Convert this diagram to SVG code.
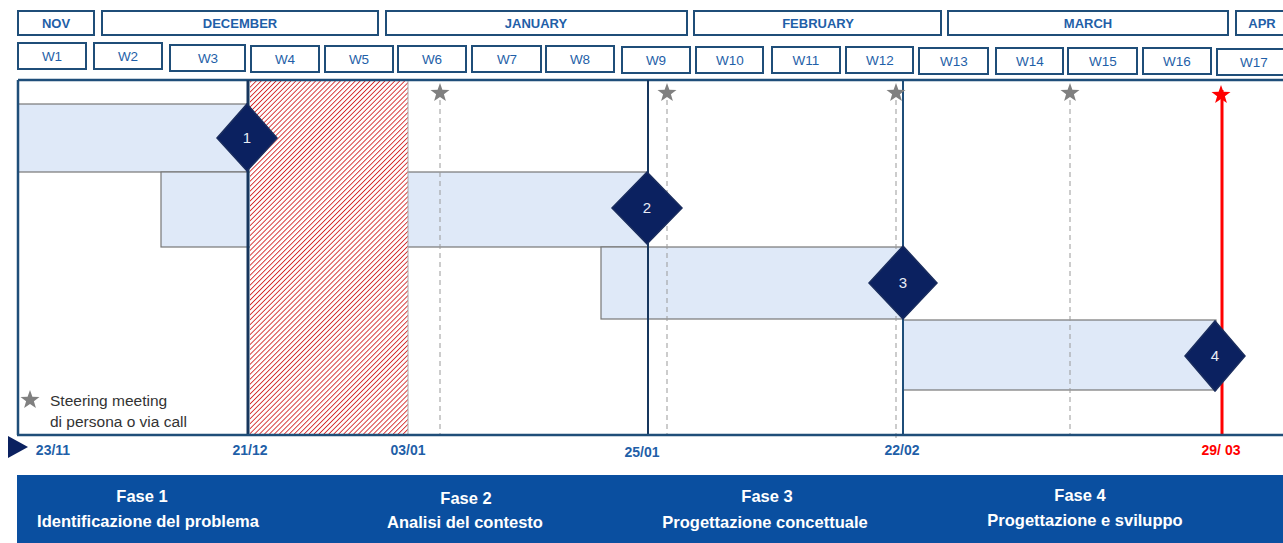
<svg xmlns="http://www.w3.org/2000/svg" width="1283" height="543" viewBox="0 0 1283 543">
<style>
.box{fill:#fff;stroke:#1f4e79;stroke-width:2}
.mt{font-family:"Liberation Sans",Arial,sans-serif;font-size:13px;font-weight:bold;fill:#1f5fa8;text-anchor:middle}
.wt{font-family:"Liberation Sans",Arial,sans-serif;font-size:13.5px;fill:#1f5fa8;text-anchor:middle}
.bar{fill:#dfe9f8;stroke:#777;stroke-width:1.2}
.dia{fill:#0b2160;stroke:#1a2d5e;stroke-width:1.5}
.dt{font-family:"Liberation Sans",Arial,sans-serif;font-size:15px;fill:#e8ecf5;text-anchor:middle}
.dash{stroke:#999;stroke-width:1;stroke-dasharray:5 4;fill:none}
.star{fill:#808080}
.dl{font-family:"Liberation Sans",Arial,sans-serif;font-size:14px;font-weight:bold;fill:#1f5fa8;text-anchor:middle}
.ft{font-family:"Liberation Sans",Arial,sans-serif;font-size:16.5px;font-weight:bold;fill:#fff;text-anchor:middle}
.lg{font-family:"Liberation Sans",Arial,sans-serif;font-size:15.5px;fill:#333}
</style>
<defs>
<pattern id="hatch" width="3.5" height="3.5" patternUnits="userSpaceOnUse" patternTransform="rotate(45)">
<rect width="3.5" height="3.5" fill="#fff"/>
<line x1="0" y1="0" x2="0" y2="3.5" stroke="#d42a2a" stroke-width="1.8"/>
</pattern>
<path id="st" d="M0,-10 L2.4,-3.3 L9.5,-3.1 L3.9,1.3 L5.9,8.1 L0,4.1 L-5.9,8.1 L-3.9,1.3 L-9.5,-3.1 L-2.4,-3.3 Z"/>
</defs>
<rect width="1283" height="543" fill="#fff"/>

<g id="months">
<rect class="box" x="18" y="11" width="76" height="24"/><text class="mt" x="56" y="28">NOV</text>
<rect class="box" x="102" y="11" width="276" height="24"/><text class="mt" x="240" y="28">DECEMBER</text>
<rect class="box" x="386" y="11" width="301" height="24"/><text class="mt" x="536" y="28">JANUARY</text>
<rect class="box" x="694" y="11" width="247" height="24"/><text class="mt" x="818" y="28">FEBRUARY</text>
<rect class="box" x="948" y="11" width="280" height="24"/><text class="mt" x="1088" y="28">MARCH</text>
<rect class="box" x="1236" y="11" width="52" height="24"/><text class="mt" x="1262" y="28">APR</text>
</g>

<g id="weeks">
<rect class="box" x="18" y="43" width="68" height="26"/><text class="wt" x="52" y="61">W1</text>
<rect class="box" x="94" y="43" width="68" height="26"/><text class="wt" x="128" y="61">W2</text>
<rect class="box" x="170" y="45" width="75" height="26"/><text class="wt" x="208" y="63">W3</text>
<rect class="box" x="251" y="46" width="68" height="26"/><text class="wt" x="285" y="64">W4</text>
<rect class="box" x="325" y="46" width="68" height="26"/><text class="wt" x="359" y="64">W5</text>
<rect class="box" x="398" y="46" width="68" height="26"/><text class="wt" x="432" y="64">W6</text>
<rect class="box" x="472" y="46" width="69" height="26"/><text class="wt" x="507" y="64">W7</text>
<rect class="box" x="546" y="46" width="68" height="26"/><text class="wt" x="580" y="64">W8</text>
<rect class="box" x="622" y="47" width="68" height="26"/><text class="wt" x="656" y="65">W9</text>
<rect class="box" x="696" y="47" width="67" height="26"/><text class="wt" x="730" y="65">W10</text>
<rect class="box" x="772" y="47" width="68" height="26"/><text class="wt" x="806" y="65">W11</text>
<rect class="box" x="846" y="47" width="67" height="26"/><text class="wt" x="880" y="65">W12</text>
<rect class="box" x="919" y="48" width="69" height="26"/><text class="wt" x="954" y="66">W13</text>
<rect class="box" x="996" y="48" width="67" height="26"/><text class="wt" x="1030" y="66">W14</text>
<rect class="box" x="1068" y="48" width="69" height="26"/><text class="wt" x="1103" y="66">W15</text>
<rect class="box" x="1143" y="48" width="68" height="26"/><text class="wt" x="1177" y="66">W16</text>
<rect class="box" x="1217" y="49" width="72" height="26"/><text class="wt" x="1254" y="67">W17</text>
</g>

<g id="bars">
<rect class="bar" x="18" y="104" width="230" height="68"/>
<rect class="bar" x="161" y="172" width="487" height="75"/>
<rect class="bar" x="601" y="247" width="302" height="72"/>
<rect class="bar" x="903" y="320" width="313" height="70"/>
</g>

<g id="holiday">
<rect x="250" y="81" width="158" height="354" fill="url(#hatch)"/>
<line x1="408" y1="81" x2="408" y2="435" stroke="#aaa" stroke-width="1"/>
</g>

<g id="connectors">
<line x1="18" y1="80" x2="1283" y2="80" stroke="#1f4e79" stroke-width="2.5"/>
<line x1="18" y1="80" x2="18" y2="435" stroke="#1f4e79" stroke-width="2.5"/>
<line x1="248" y1="80" x2="248" y2="435" stroke="#17365d" stroke-width="3"/>
<line x1="648" y1="80" x2="648" y2="435" stroke="#17365d" stroke-width="2"/>
<line x1="903" y1="80" x2="903" y2="435" stroke="#1f4e79" stroke-width="2"/>
<line class="dash" x1="440" y1="100" x2="440" y2="435"/>
<line class="dash" x1="667" y1="100" x2="667" y2="435"/>
<line class="dash" x1="896" y1="100" x2="896" y2="440"/>
<line class="dash" x1="1070" y1="100" x2="1070" y2="435"/>
<line x1="1222" y1="90" x2="1222" y2="435" stroke="#ff0000" stroke-width="3"/>
<line x1="17" y1="435" x2="1283" y2="435" stroke="#1f4e79" stroke-width="2.5"/>
<path d="M8,436 L28,447 L8,458 Z" fill="#0b2160"/>
</g>

<g id="stars">
<use href="#st" class="star" x="440" y="93"/>
<use href="#st" class="star" x="667" y="93"/>
<use href="#st" class="star" x="896" y="93"/>
<use href="#st" class="star" x="1070" y="93"/>
<use href="#st" fill="#ff0000" x="1221" y="95"/>
</g>

<g id="m1"><path class="dia" d="M247,104 L277,138 L247,171 L217,138 Z"/><text class="dt" x="247" y="143">1</text></g>
<g id="m2"><path class="dia" d="M647,172 L682,208 L647,244 L612,208 Z"/><text class="dt" x="647" y="213">2</text></g>
<g id="m3"><path class="dia" d="M903,246 L937,283 L903,319 L869,283 Z"/><text class="dt" x="903" y="288">3</text></g>
<g id="m4"><path class="dia" d="M1215,321 L1245,356 L1215,391 L1185,356 Z"/><text class="dt" x="1215" y="361">4</text></g>

<g id="legend">
<use href="#st" class="star" x="30" y="400"/>
<text class="lg" x="50" y="406">Steering meeting</text>
<text class="lg" x="50" y="427">di persona o via call</text>
</g>

<g id="dates">
<text class="dl" x="53" y="455">23/11</text>
<text class="dl" x="250" y="455">21/12</text>
<text class="dl" x="408" y="455">03/01</text>
<text class="dl" x="642" y="457">25/01</text>
<text class="dl" x="902" y="455">22/02</text>
<text class="dl" x="1221" y="455" style="fill:#ff0000">29/ 03</text>
</g>

<g id="phases">
<rect x="17" y="475" width="1266" height="68" fill="#0a4fa0"/>
<text class="ft" x="142" y="502">Fase 1</text>
<text class="ft" x="148" y="527">Identificazione del problema</text>
<text class="ft" x="466" y="504">Fase 2</text>
<text class="ft" x="465" y="528">Analisi del contesto</text>
<text class="ft" x="767" y="502">Fase 3</text>
<text class="ft" x="765" y="528">Progettazione concettuale</text>
<text class="ft" x="1080" y="501">Fase 4</text>
<text class="ft" x="1085" y="526">Progettazione e sviluppo</text>
</g>
</svg>
